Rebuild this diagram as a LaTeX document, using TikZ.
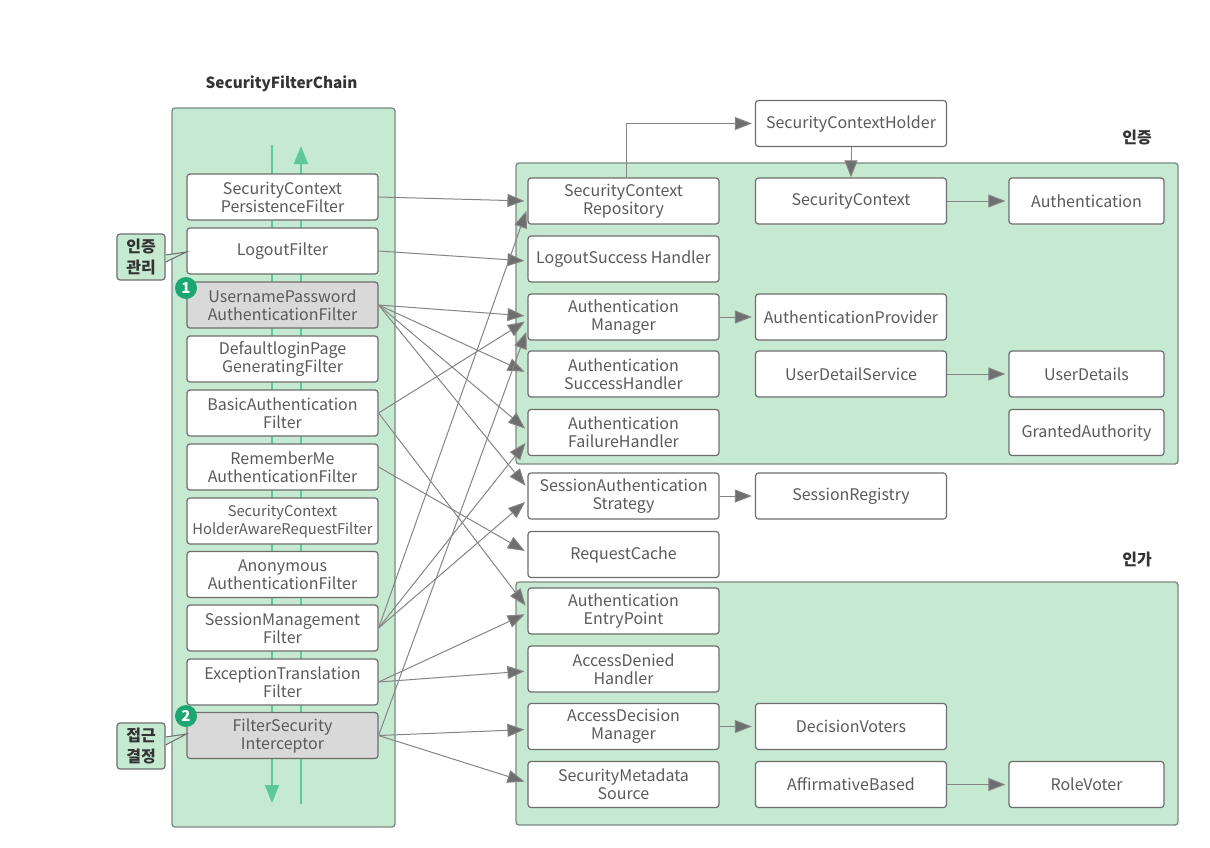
\documentclass[tikz,border=0pt]{standalone}
\usepackage{fontspec}
\setmainfont{Noto Sans CJK KR}
\usetikzlibrary{arrows.meta,calc}
\definecolor{panelg}{HTML}{C6E9D1}
\definecolor{edgeg}{HTML}{7C8A82}
\definecolor{boxe}{HTML}{6E6E6E}
\definecolor{wire}{HTML}{858585}
\definecolor{flow}{HTML}{5CC99A}
\definecolor{badge}{HTML}{1BA672}
\definecolor{txt}{HTML}{5A5A5A}
\tikzset{
  x=1pt,y=-1pt,
  panel/.style={draw=edgeg,fill=panelg,line width=1.3pt,rounded corners=3pt,inner sep=0pt},
  fbox/.style={draw=boxe,fill=white,line width=1.2pt,rounded corners=3pt,minimum width=191pt,minimum height=46pt,inner sep=0pt,align=center,text=txt,font=\fontsize{16}{18}\selectfont},
  gbox/.style={fbox,fill=black!15},
  sbox/.style={fbox,minimum width=155pt},
  wirea/.style={draw=wire,line width=1pt,-{Triangle[length=17pt,width=13pt,fill=boxe]},shorten >=3pt},
  flowl/.style={draw=flow,line width=2pt},
  flowa/.style={flowl,-{Triangle[length=18pt,width=14pt]}},
  callout/.style={draw=boxe,fill=panelg,line width=1.2pt,rounded corners=3pt,minimum width=48pt,minimum height=46pt,inner sep=0pt,align=center,text=black!80,font=\fontsize{16}{21}\selectfont\bfseries},
  numb/.style={circle,fill=badge,minimum size=22pt,inner sep=0pt,text=white,font=\fontsize{15}{15}\selectfont\bfseries},
  head/.style={text=black!80,font=\fontsize{16}{18}\selectfont\bfseries,inner sep=0pt}
}
\begin{document}
\begin{tikzpicture}
\useasboundingbox (0,0) rectangle (1210,847);
\fill[white] (0,0) rectangle (1210,847);
% panels
\node[panel,minimum width=223pt,minimum height=719pt] (chain) at (283.5,467.5) {};
\node[panel,minimum width=662pt,minimum height=301pt] (authn) at (847,313.5) {};
\node[panel,minimum width=662pt,minimum height=243pt] (authz) at (847,703.5) {};
% headings
\node[head,font=\fontsize{15.3}{18}\selectfont\bfseries] (tchain) at (281.5,83.5) {SecurityFilterChain};
\node[head] (tauthn) at (1137,138) {인증};
\node[head] (tauthz) at (1137,559) {인가};
% flow lines
\coordinate (fa) at (272,145); \coordinate (fb) at (272,803);
\coordinate (ga) at (301,804); \coordinate (gb) at (301,146);
\draw[flowa] (fa) -- (fb);
\draw[flowa] (ga) -- (gb);
% filters
\node[fbox] (f1) at (282.5,197) {SecurityContext\\PersistenceFilter};
\node[fbox] (f2) at (282.5,251) {LogoutFilter};
\node[gbox] (f3) at (282.5,305) {UsernamePassword\\AuthenticationFilter};
\node[fbox] (f4) at (282.5,359) {DefaultloginPage\\GeneratingFilter};
\node[fbox] (f5) at (282.5,413) {BasicAuthentication\\Filter};
\node[fbox] (f6) at (282.5,467) {RememberMe\\AuthenticationFilter};
\node[fbox] (f7) at (282.5,521) {\fontsize{14.7}{19}\selectfont SecurityContext\\\fontsize{14.7}{19}\selectfont HolderAwareRequestFilter};
\node[fbox] (f8) at (282.5,574.5) {Anonymous\\AuthenticationFilter};
\node[fbox] (f9) at (282.5,628) {SessionManagement\\Filter};
\node[fbox] (f10) at (282.5,682) {ExceptionTranslation\\Filter};
\node[gbox] (f11) at (282.5,735.5) {FilterSecurity\\Interceptor};
% first column
\node[fbox] (r1) at (623.5,201) {SecurityContext\\Repository};
\node[fbox] (r2) at (623.5,259) {LogoutSuccess Handler};
\node[fbox] (r3) at (623.5,317) {Authentication\\Manager};
\node[fbox] (r4) at (623.5,374) {Authentication\\SuccessHandler};
\node[fbox] (r5) at (623.5,432.5) {Authentication\\FailureHandler};
\node[fbox] (r6) at (623.5,496) {SessionAuthentication\\Strategy};
\node[fbox] (r7) at (623.5,554.5) {RequestCache};
\node[fbox] (r8) at (623.5,611) {Authentication\\EntryPoint};
\node[fbox] (r9) at (623.5,669) {AccessDenied\\Handler};
\node[fbox] (r10) at (623.5,726.5) {AccessDecision\\Manager};
\node[fbox] (r11) at (623.5,784.5) {SecurityMetadata\\Source};
% second column
\node[fbox] (c0) at (851,123.5) {SecurityContextHolder};
\node[fbox] (c1) at (851,201) {SecurityContext};
\node[fbox] (c2) at (851,317) {AuthenticationProvider};
\node[fbox] (c3) at (851,374) {UserDetailService};
\node[fbox] (c4) at (851,496) {SessionRegistry};
\node[fbox] (c5) at (851,726.5) {DecisionVoters};
\node[fbox] (c6) at (851,784.5) {AffirmativeBased};
% third column
\node[sbox] (d1) at (1086.5,201) {Authentication};
\node[sbox] (d2) at (1086.5,374) {UserDetails};
\node[sbox] (d3) at (1086.5,432.5) {GrantedAuthority};
\node[sbox] (d4) at (1086.5,784.5) {RoleVoter};
% callouts
\node[callout] (k1) at (141,257) {인증\\관리};
\node[callout] (k2) at (141,746) {접근\\결정};
\path[draw=boxe,fill=panelg,line width=1pt] ($(k1.east)+(0,-2)$) -- ($(f2.west)+(0,1)$) -- ($(k1.east)+(0,5)$);
\path[draw=boxe,fill=panelg,line width=1pt] ($(k2.east)+(0,-9)$) -- ($(f11.west)+(0,-1.5)$) -- ($(k2.east)+(0,-1)$);
% badges
\node[numb] (n1) at (186,288) {1};
\node[numb] (n2) at (186,716) {2};
% connectors between the columns
\draw[wirea] (f1.east) -- (r1.west);
\draw[wirea] (f2.east) -- ($(r2.west)+(0,2)$);
\draw[wirea] (f3.east) -- ($(r3.west)+(0,-1)$);
\draw[wirea] (f3.east) -- ($(r4.west)+(0,-1)$);
\draw[wirea] (f3.east) -- ($(r5.west)+(0,-2)$);
\draw[wirea] (f3.east) -- ($(r6.west)+(0,-8)$);
\draw[wirea] (f5.east) -- ($(r3.west)+(0,3)$);
\draw[wirea] (f5.east) -- ($(r8.west)+(0,-3)$);
\draw[wirea] (f6.east) -- ($(r7.west)+(0,-2)$);
\draw[wirea] (f9.east) -- ($(r1.west)+(0,7)$);
\draw[wirea] (f9.east) -- ($(r5.west)+(0,8)$);
\draw[wirea] (f9.east) -- ($(r6.west)+(0,4)$);
\draw[wirea] (f10.east) -- ($(r8.west)+(0,2)$);
\draw[wirea] (f10.east) -- ($(r9.west)+(0,2)$);
\draw[wirea] (f11.east) -- ($(r3.west)+(0,12)$);
\draw[wirea] (f11.east) -- ($(r10.west)+(0,3)$);
\draw[wirea] (f11.east) -- ($(r11.west)+(0,-2)$);
% connectors to the right
\draw[wirea] ($(r1.north)+(2.5,0)$) |- (c0.west);
\draw[wirea,shorten >=0pt] (c0.south) -- (c1.north);
\draw[wirea] (c1.east) -- (d1.west);
\draw[wirea] (r3.east) -- (c2.west);
\draw[wirea] (c3.east) -- (d2.west);
\draw[wirea] (r6.east) -- (c4.west);
\draw[wirea] (r10.east) -- (c5.west);
\draw[wirea] (c6.east) -- (d4.west);
\end{tikzpicture}
\end{document}
